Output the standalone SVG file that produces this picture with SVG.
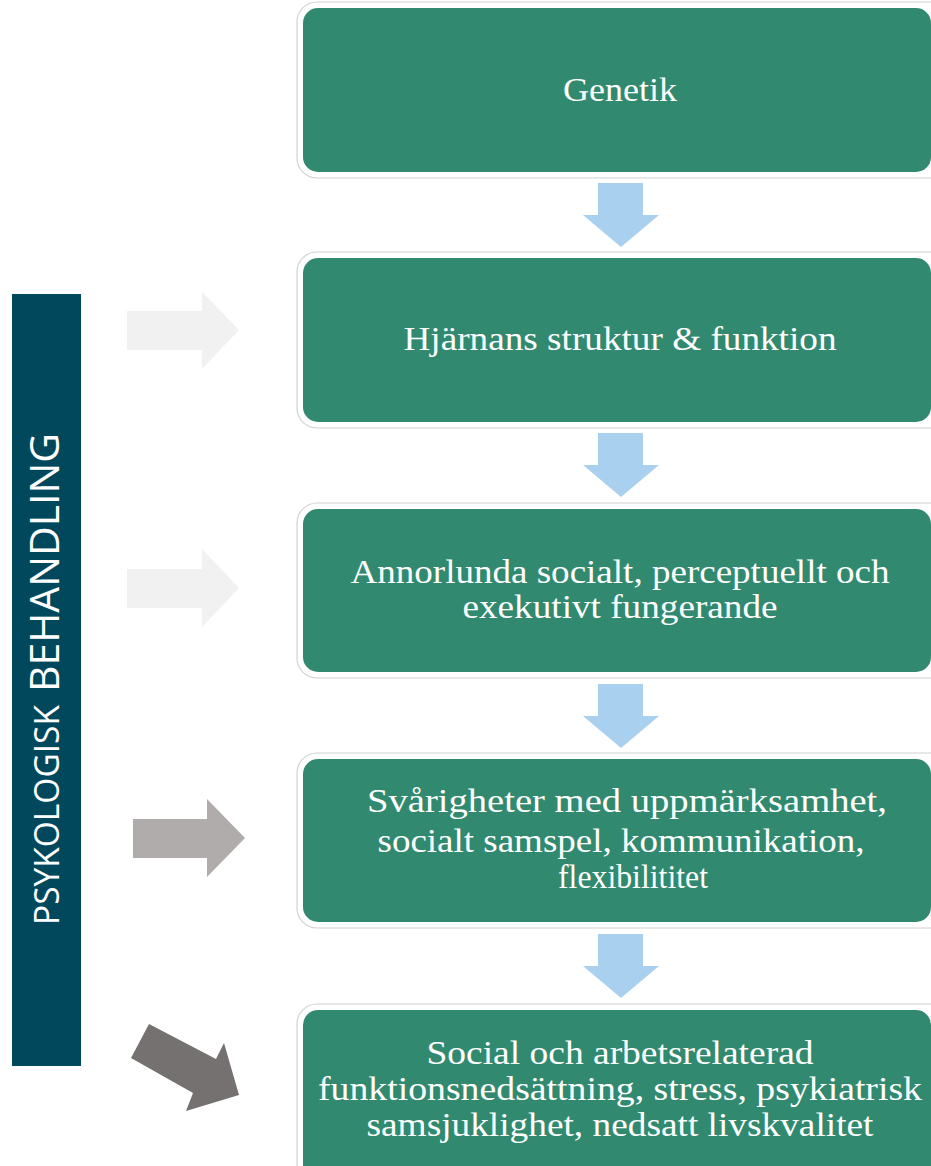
<svg xmlns="http://www.w3.org/2000/svg" width="931" height="1166" viewBox="0 0 931 1166">
  <defs>
    <style>
      .frame { fill: #ffffff; stroke: #d2d2d2; stroke-width: 1.2; }
      .card { fill: #318a6f; }
      .label { font-family: "Liberation Serif", "DejaVu Serif", serif; font-size: 33px; fill: #ffffff; text-anchor: middle; }
      .down { fill: #a9d0ee; }
      .side { font-family: "Open Sans", "Liberation Sans", sans-serif; fill: #ffffff; }
    </style>
  </defs>

  <rect width="931" height="1166" fill="#ffffff"/>

  <!-- side bar -->
  <g id="bar">
    <rect x="12" y="294" width="69" height="772" fill="#02485d"/>
    <text class="side" transform="translate(59 925) rotate(-90)">
      <tspan font-size="35" textLength="220" lengthAdjust="spacingAndGlyphs">PSYKOLOGISK</tspan>
      <tspan x="233" font-size="40" textLength="259" lengthAdjust="spacingAndGlyphs">BEHANDLING</tspan>
    </text>
  </g>

  <!-- chain of cards -->
  <g id="n1">
    <rect class="frame" x="297" y="2" width="660" height="176" rx="20"/>
    <rect class="card" x="303" y="8" width="628" height="164" rx="15"/>
    <text class="label" x="620" y="101" textLength="114" lengthAdjust="spacingAndGlyphs">Genetik</text>
  </g>
  <g id="n2">
    <rect class="frame" x="297" y="252" width="660" height="176" rx="20"/>
    <rect class="card" x="303" y="258" width="628" height="164" rx="15"/>
    <text class="label" x="620" y="350" textLength="433" lengthAdjust="spacingAndGlyphs">Hjärnans struktur &amp; funktion</text>
  </g>
  <g id="n3">
    <rect class="frame" x="297" y="503" width="660" height="175" rx="20"/>
    <rect class="card" x="303" y="509" width="628" height="163" rx="15"/>
    <text class="label" x="620" y="583" textLength="539" lengthAdjust="spacingAndGlyphs">Annorlunda socialt, perceptuellt och</text>
    <text class="label" x="620" y="618" textLength="315" lengthAdjust="spacingAndGlyphs">exekutivt fungerande</text>
  </g>
  <g id="n4">
    <rect class="frame" x="297" y="753" width="660" height="175" rx="20"/>
    <rect class="card" x="303" y="759" width="628" height="163" rx="15"/>
    <text class="label" x="627" y="812" textLength="520" lengthAdjust="spacingAndGlyphs">Svårigheter med uppmärksamhet,</text>
    <text class="label" x="621" y="852" textLength="487" lengthAdjust="spacingAndGlyphs">socialt samspel, kommunikation,</text>
    <text class="label" x="633" y="888" textLength="150" lengthAdjust="spacingAndGlyphs">flexibilititet</text>
  </g>
  <g id="n5">
    <rect class="frame" x="297" y="1004" width="660" height="180" rx="20"/>
    <rect class="card" x="303" y="1010" width="628" height="170" rx="15"/>
    <text class="label" x="620" y="1064" textLength="387" lengthAdjust="spacingAndGlyphs">Social och arbetsrelaterad</text>
    <text class="label" x="620" y="1100" textLength="604" lengthAdjust="spacingAndGlyphs">funktionsnedsättning, stress, psykiatrisk</text>
    <text class="label" x="620" y="1136" textLength="507" lengthAdjust="spacingAndGlyphs">samsjuklighet, nedsatt livskvalitet</text>
  </g>

  <!-- connectors -->
  <g id="connectors">
    <polygon class="down" points="598,183 643,183 643,215 659,215 621,247 583,215 598,215"/>
    <polygon class="down" points="598,433 643,433 643,465 659,465 621,497 583,465 598,465"/>
    <polygon class="down" points="598,684 643,684 643,716 659,716 621,748 583,716 598,716"/>
    <polygon class="down" points="598,934 643,934 643,966 659,966 621,998 583,966 598,966"/>

    <polygon fill="#f1f1f1" points="127,311 202,311 202,292 239,330 202,369 202,350 127,350"/>
    <polygon fill="#f1f1f1" points="127,569 202,569 202,549 239,588 202,627 202,608 127,608"/>
    <polygon fill="#b0acab" points="133,819 207,819 207,799 245,838 207,877 207,858 133,858"/>
    <polygon fill="#747170" points="149,1024 216,1059 224,1043 239,1095 186,1111 193,1093 131,1058"/>
  </g>
</svg>
